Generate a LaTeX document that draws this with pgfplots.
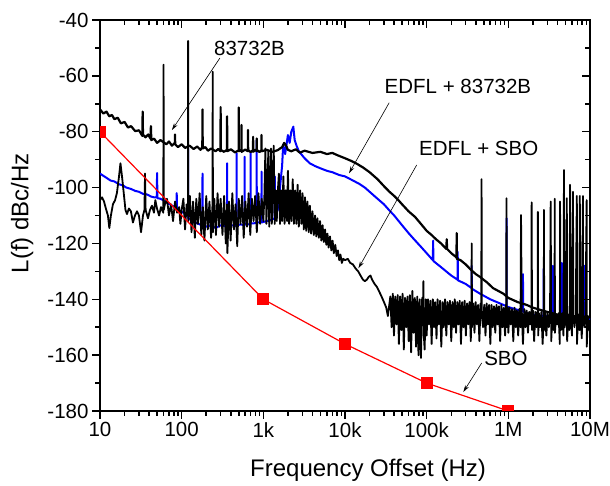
\documentclass[border=0pt]{standalone}
\usepackage{pgfplots}
\pgfplotsset{compat=1.18}
\usepackage{fontspec}
\setmainfont{Liberation Sans}
\usetikzlibrary{arrows.meta}
\begin{document}
\begin{tikzpicture}
\begin{axis}[name=ax,
  width=490pt, height=391pt, scale only axis,
  xmode=log, xmin=10, xmax=10000000, ymin=-180, ymax=-40,
  xtick={10,100,1000,10000,100000,1000000,10000000},
  minor xtick={20,30,40,50,60,70,80,90,200,300,400,500,600,700,800,900,2000,3000,4000,5000,6000,7000,8000,9000,20000,30000,40000,50000,60000,70000,80000,90000,200000,300000,400000,500000,600000,700000,800000,900000,2000000,3000000,4000000,5000000,6000000,7000000,8000000,9000000},
  ytick={-180,-160,-140,-120,-100,-80,-60,-40},
  minor ytick={-170,-150,-130,-110,-90,-70,-50},
  major tick length=8pt, minor tick length=5pt,
  tick style={line width=1.5pt, black},
  axis line style={line width=1.8pt},
  tick align=outside, xtick pos=left, ytick pos=left,
  clip mode=individual, clip marker paths=true,
  xticklabels={10,100,1k,10k,100k,1M,10M},
  yticklabels={-180,-160,-140,-120,-100,-80,-60,-40},
  ticklabel style={font=\fontsize{20.5}{24}\selectfont},
  xlabel={Frequency Offset (Hz)},
  ylabel={L(f) dBc/Hz},
  label style={font=\fontsize{24}{28}\selectfont},
  xlabel style={at={(axis description cs:0.547,-0.151)}, anchor=center},
  ylabel style={at={(axis description cs:-0.159,0.506)}, anchor=center},
]
% blue: EDFL + 83732B
\addplot[blue, line width=2pt, line join=round] coordinates {
(10,-95)(11,-95.8)(12,-96.5)(13.5,-97.5)(15,-97.8)(17,-98.8)(19,-99.2)(21,-100)(24,-100.5)(27,-101.2)(30,-101.5)(34,-102.3)(38,-102.5)(42,-103.2)(46,-103.5)(49.5,-103.5)(50,-94.8)(50.5,-103.8)(55,-104)(60,-104.6)(66,-105.4)(72,-106)(80,-106.8)(86.5,-107)(87,-102)(87.5,-107.5)(95,-108.2)(105,-109)(115,-110)(119.5,-110.5)(120,-86)(120.5,-111)(130,-111.5)(145,-112.5)(160,-113)(179,-113.5)(180,-95)(181,-113.5)(200,-114)(230,-113.5)(260,-114.5)(300,-113.5)(359,-114)(360,-91.3)(361,-114)(420,-113.5)(469,-113.8)(470,-87.7)(471,-113.5)(530,-113.2)(589,-113.5)(590,-89)(591,-113)(650,-113.2)(699,-113)(700,-87.7)(701,-112.8)(765,-112.8)(829,-112.6)(830,-83)(831,-112.5)(900,-112.5)(949,-112.3)(950,-94.3)(951,-112.5)(1100,-112)(1269,-111.5)(1270,-94)(1271,-111.5)(1379,-111)(1380,-96)(1381,-110.5)(1500,-108)(1600,-100)(1700,-92)(1750,-84.6)(1850,-88)(2000,-81.2)(2100,-84)(2200,-80)(2330,-78.2)(2420,-83)(2550,-85)(2700,-86.8)(2900,-88)(3200,-89.5)(3700,-91.3)(4300,-92.3)(4900,-93)(6000,-94)(7000,-94.5)(8500,-95.5)(10000,-96)(12000,-97.2)(15000,-98.7)(17500,-100)(20000,-101.5)(25000,-104)(30000,-106)(35000,-108.2)(40000,-110)(50000,-113.5)(60000,-116.3)(70000,-118.5)(85000,-121.2)(100000,-123.5)(119000,-126)(120000,-119)(121000,-126.3)(150000,-128.5)(200000,-131.5)(239000,-133)(240000,-123)(241000,-133.2)(300000,-134.5)(355000,-136)(356000,-128)(357000,-136.2)(450000,-138)(600000,-140)(870000,-142)(952000,-142.5)(953000,-111)(954000,-142.6)(1300000,-143.8)(1500000,-144.3)(1510000,-131)(1520000,-144.4)(1700000,-145)(2000000,-145.5)(2700000,-146)(2710000,-129)(2720000,-146)(3500000,-146.2)(3510000,-128)(3520000,-146.3)(4500000,-146.5)(4510000,-127)(4520000,-146.5)(6000000,-146.7)(6010000,-130)(6020000,-146.8)(8500000,-147)(8510000,-128)(8520000,-147)(10000000,-147)
};
% black: EDFL + SBO
\addplot[black, line width=1.8pt, line join=round] coordinates {
(10,-104.5)(10.6,-103.5)(11.2,-105)(11.8,-107.5)(12.5,-110)(13.0,-114.5)(13.6,-110)(14.4,-106)(15.3,-104.5)(16.1,-102)(17.1,-96)(17.8,-91.3)(18.6,-96)(19.7,-103)(20.5,-108)(21.4,-109.5)(22.6,-107.5)(23.9,-108.5)(25.3,-112.5)(26.8,-110)(28.4,-108.5)(30.0,-110)(31.8,-116)(33.6,-110)(35.0,-108)(35.6,-95)(36.2,-108)(38.7,-111)(40.9,-108)(43.3,-106.5)(45.8,-109)(47.6,-104.5)(49.9,-107.5)(52.9,-110)(55.8,-107)(59.6,-109)(60,-56)(60.4,-108)(62.3,-106)(66.1,-104)(69.9,-110)(74.1,-106)(78.4,-112)(83,-105)(87.9,-109)(93.1,-107)(96.5,-113)
(100,-108)(105,-104)(110,-115)(115,-106)(119.3,-110)(120,-47.5)(120.7,-112)(126,-103)(132,-116)(138,-105)(145,-118)(151,-104)(158,-113)(166,-102)(174,-117)(182,-107)(190,-119)(200,-103)(209,-115)(219,-105)(229,-118)(238.5,-106)(240,-58.5)(241.5,-116)(251,-104)(263,-117)(275,-102)(288,-114)(300,-104)(316,-117)(331,-103)(347,-120)(360,-106)(363,-123.5)(380,-105)(398,-119)(417,-102)(437,-115)(457,-106)(479,-121)(500,-104)(525,-113)(550,-103)(575,-118)(603,-105)(631,-114)(661,-102)(692,-117)(724,-104)(759,-112)(794,-103)(832,-116)(871,-102)(912,-113)(955,-104)
(1000,-112)(1030,-103)(1060,-86)(1090,-113)(1120,-102)(1150,-87)(1180,-114)(1210,-103)(1240,-86)(1270,-113)(1300,-102)(1340,-85)(1380,-113)(1420,-101)(1460,-112)(1500,-102)(1550,-95)(1600,-113)(1650,-101)(1700,-112)(1760,-96)(1820,-113)(1880,-101)(1950,-112)(2000,-94)(2070,-113)(2140,-101)(2210,-112)(2290,-97)(2370,-113)(2450,-101)(2540,-113)(2630,-99)(2720,-114)(2820,-101)(2920,-113)(3020,-102)(3130,-115)(3240,-103.5)(3350,-115.5)(3470,-105)(3600,-116)(3720,-106.5)(3850,-116.5)(4000,-108.5)(4150,-117)(4300,-110)(4450,-117.5)(4600,-111)(4780,-118)(4950,-112)(5130,-119)(5320,-113.5)(5500,-119.5)(5700,-115)(5900,-120.5)(6100,-116.5)(6300,-121.5)(6550,-117.5)(6800,-122.5)(7050,-119)(7300,-123.5)(7600,-120.5)(7900,-124.5)(8200,-122.5)(8500,-126)(8800,-124)(9150,-127)(9500,-125.5)
(10000,-126)(10800,-125.5)(11600,-127)(12500,-127.5)(13500,-129)(14500,-130)(15500,-131.5)(16600,-133)(17500,-133.5)(18500,-133)(19500,-132)(20500,-131.5)(21500,-133)(23000,-134.5)(24500,-135.5)(26000,-137)(27500,-138.5)(29000,-140)(30500,-141.5)(32000,-143)(33500,-146)
(35900,-139)(37200,-150)(38500,-138)(39800,-153)(41200,-139)(42700,-149)(44200,-138.5)(45700,-156)(47300,-139)(49000,-151)(50700,-138)(52500,-158)(54300,-139.5)(56200,-150)(58200,-139)(60200,-155)(62300,-138.5)(64500,-159)(66800,-137)(69200,-152)(71600,-139.5)(74100,-157)(76700,-139)(79400,-160)(82200,-140)(85100,-161)(88100,-139.5)(90500,-146)(91200,-133.5)(92000,-152)(94400,-158)(97700,-140)
(100000,-153)(103500,-140)(107000,-149)(111000,-140.5)(115000,-156)(119000,-140)(123000,-150)(127000,-141)(132000,-154)(136000,-140)(141000,-149)(146000,-140.5)(151000,-157)(157000,-141)(162000,-150)(168000,-140)(174000,-153)(180000,-141)(186000,-149)(193000,-140.5)(200000,-155)(207000,-141)(214000,-150)(221000,-140)(229000,-152)(237000,-141)(245000,-149)(254000,-140.5)(263000,-156)(272000,-141)(282000,-150)(292000,-140.5)(302000,-153)(313000,-141.5)(324000,-149)(335000,-141)(347000,-155)(354000,-141)(356000,-120)(359000,-150)(372000,-141.5)(385000,-152)(398000,-141)(412000,-149)(427000,-142)(442000,-155)(457000,-141.5)(466000,-146)(470000,-97)(474000,-146)(490000,-150)(507000,-142)(525000,-153)(543000,-141.5)(562000,-149)(582000,-142)(602000,-156)(623000,-142)(645000,-150)(668000,-142.5)(692000,-152)(716000,-142)(741000,-149)(767000,-142.5)(794000,-155)(822000,-142)(851000,-150)(881000,-143)(912000,-153)(940000,-142.5)(950000,-103.8)(960000,-150)(977000,-143)
(1000000,-152)(1035000,-143)(1070000,-149)(1110000,-143.5)(1150000,-155)(1190000,-143)(1230000,-150)(1270000,-144)(1320000,-153)(1360000,-143.5)(1410000,-150)(1430000,-109.8)(1460000,-144)(1510000,-156)(1570000,-143.5)(1620000,-150)(1680000,-144)(1740000,-152)(1800000,-144.5)(1860000,-149)(1920000,-144)(1930000,-105.3)(1950000,-151)(2000000,-144)(2070000,-155)(2140000,-144.5)(2210000,-150)(2290000,-144)(2300000,-108.7)(2320000,-153)(2370000,-145)(2450000,-150)(2540000,-144.5)(2630000,-156)(2720000,-145)(2730000,-108)(2750000,-151)(2820000,-144.5)(2920000,-153)(3020000,-145)(3130000,-150)(3240000,-145)(3300000,-105)(3350000,-155)(3470000,-145)(3590000,-151)(3680000,-145)(3700000,-104)(3720000,-152)(3850000,-145.5)(3980000,-149)(4120000,-145)(4270000,-156)(4300000,-105)(4330000,-145.5)(4420000,-151)(4570000,-145)(4730000,-153)(4800000,-93.7)(4850000,-145.5)(4900000,-150)(5070000,-145)(5200000,-103.8)(5250000,-155)(5430000,-145.5)(5620000,-151)(5700000,-99)(5820000,-145)(6020000,-153)(6200000,-101.5)(6230000,-145.5)(6450000,-150)(6680000,-146)(6900000,-103)(6920000,-156)(7160000,-145.5)(7410000,-151)(7500000,-103)(7670000,-146)(7940000,-154)(8200000,-103)(8220000,-145.5)(8510000,-150)(8810000,-146)(9100000,-104.5)(9120000,-157)(9440000,-146)(9770000,-151)(10000000,-148)
};
% black: 83732B
\addplot[black, line width=2.2pt, line join=round] coordinates {
(10,-72)(11,-73.5)(12,-72.8)(13,-74.5)(14,-74)(15,-75.5)(16.5,-75)(18,-77)(20,-76.5)(22,-78.5)(24,-78)(27,-79.8)(30,-79.5)(33,-81.5)(33.3,-72.8)(33.6,-81)(36,-82)(39,-81)(41.5,-82.5)(42,-78)(42.5,-83)(46,-82.5)(50,-84)(55,-83)(65,-84.5)(70,-83.5)(76,-85)(82.7,-84)(83,-81)(83.3,-84.5)(90,-85.5)(100,-84.5)(110,-85.8)(125,-85)(140,-86.2)(155,-85.3)(170,-86.5)(179,-85.5)(180,-72)(181,-86)(195,-85.5)(210,-86.8)(230,-86)(260,-87)(280,-86.2)(299,-87)(300,-71.2)(301,-86.5)(330,-87.2)(358,-86.5)(360,-74.5)(362,-87)(400,-86.3)(450,-87.4)(498,-86.7)(500,-71.3)(502,-87)(538,-86.5)(540,-77.6)(542,-87.2)(600,-86.4)(648,-87)(650,-79.4)(652,-86.6)(700,-87.3)(748,-86.6)(750,-81.8)(752,-87.2)(800,-86.5)(828,-87)(830,-82.4)(832,-86.5)(900,-87.3)(948,-86.6)(950,-81.2)(952,-87)(1100,-86.5)(1300,-87.2)(1500,-86.6)(1700,-85.5)(1800,-84)(1900,-85)(2000,-86.5)(2200,-87)(2500,-86.3)(2800,-87.5)(3200,-86.8)(4000,-87.6)(5000,-87.2)(6000,-88)(7000,-87.6)(8200,-88.5)(10000,-89.5)(12000,-90.5)(14000,-91.5)(16600,-92.8)(20000,-94.5)(25000,-97)(30000,-99.5)(35000,-101.5)(40000,-103)(45000,-104.5)(50000,-106)(60000,-108.5)(72000,-110.5)(85000,-113)(100000,-115.5)(115000,-117)(130000,-118.5)(150000,-120)(174000,-122)(176000,-118.5)(178000,-122)(200000,-123.5)(232000,-125)(233000,-116.3)(234000,-125.5)(260000,-126)(300000,-127.5)(350000,-129.5)(400000,-131)(450000,-132)(550000,-134)(650000,-136)(870000,-138)(1000000,-139.5)(1300000,-141)(1670000,-142)(2000000,-143)(2900000,-144.4)(4000000,-145.5)(6000000,-146)(10000000,-146.5)
};
% red: SBO
\addplot[red, line width=1.2pt, mark=square*, mark size=5.5pt, mark options={fill=red, draw=red}] coordinates {
(10,-80)(1000,-140)(10000,-156)(100000,-170)(1000000,-180)
};
\node[font=\fontsize{20.5}{24}\selectfont] at (axis cs:677,-50.2) {83732B};
\node[font=\fontsize{20.5}{24}\selectfont] at (axis cs:241500,-63.9) {EDFL + 83732B};
\node[font=\fontsize{20.5}{24}\selectfont] at (axis cs:434500,-85.9) {EDFL + SBO};
\node[font=\fontsize{20.5}{24}\selectfont] at (axis cs:935000,-161.2) {SBO};
\draw[-{Stealth[length=7pt,width=4pt]}, line width=0.6pt] (axis cs:294,-53.6) -- (axis cs:76,-79.4);
\draw[-{Stealth[length=7pt,width=4pt]}, line width=0.6pt] (axis cs:34800,-69.6) -- (axis cs:11200,-94.9);
\draw[-{Stealth[length=7pt,width=4pt]}, line width=0.6pt] (axis cs:75500,-91.9) -- (axis cs:14600,-128.9);
\draw[-{Stealth[length=7pt,width=4pt]}, line width=0.6pt] (axis cs:472000,-162.8) -- (axis cs:281000,-173.2);
\end{axis}
\begin{axis}[
  width=490pt, height=391pt, scale only axis,
  xmode=log, xmin=10, xmax=10000000, ymin=-180, ymax=-40,
  xtick={10,100,1000,10000,100000,1000000,10000000},
  minor xtick={20,30,40,50,60,70,80,90,200,300,400,500,600,700,800,900,2000,3000,4000,5000,6000,7000,8000,9000,20000,30000,40000,50000,60000,70000,80000,90000,200000,300000,400000,500000,600000,700000,800000,900000,2000000,3000000,4000000,5000000,6000000,7000000,8000000,9000000},
  ytick={-180,-160,-140,-120,-100,-80,-60,-40},
  minor ytick={-170,-150,-130,-110,-90,-70,-50},
  major tick length=8pt, minor tick length=5pt,
  tick style={line width=1.5pt, black},
  tick align=inside, xtick pos=right, ytick pos=right,
  xticklabels={}, yticklabels={},
  axis line style={draw=none},
]
\end{axis}
\pgfresetboundingbox
\path ([shift={(-100pt,-75pt)}]ax.south west) rectangle ([shift={(20pt,20pt)}]ax.north east);
\end{tikzpicture}
\end{document}
